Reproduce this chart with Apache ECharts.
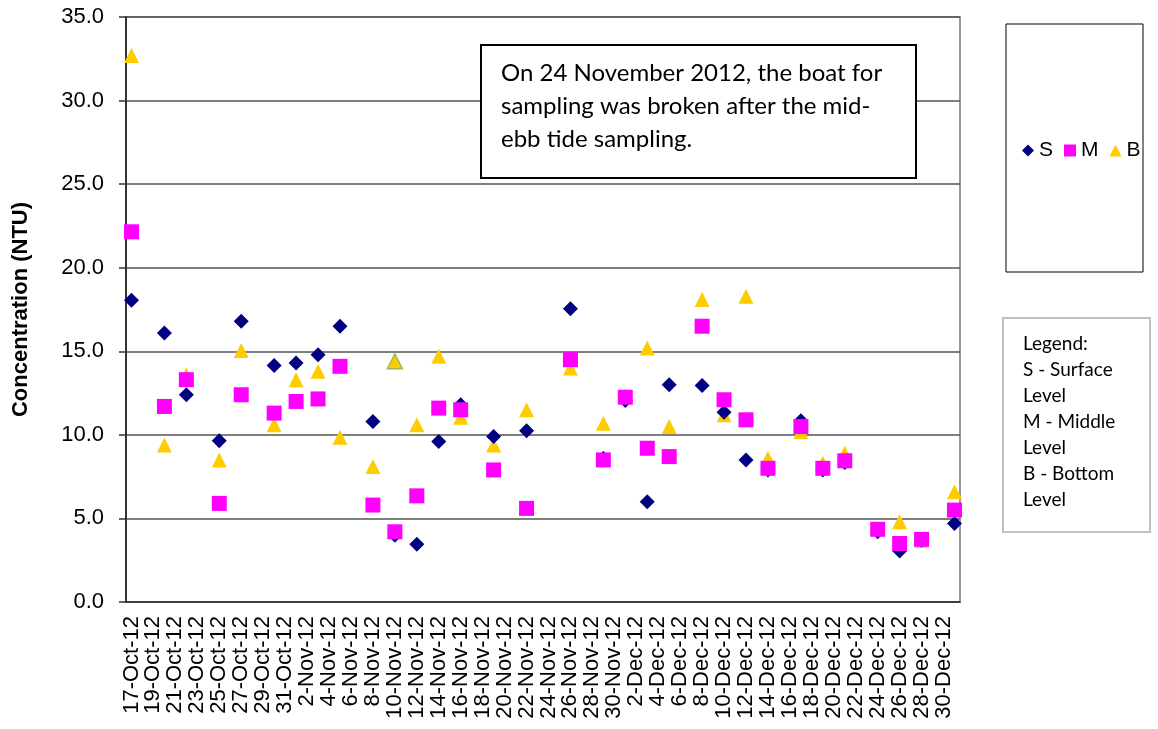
<!DOCTYPE html>
<html>
<head>
<meta charset="utf-8">
<script src="https://cdn.jsdelivr.net/npm/echarts@6/dist/echarts.min.js"></script>
<style>
  html, body { margin: 0; padding: 0; background: #fff; }
  #chart { width: 1158px; height: 729px; }
</style>
</head>
<body>
<div id="chart"></div>
<script>
// every day on the axis, labelled every other day
const days = [
  '17-Oct-12','18-Oct-12','19-Oct-12','20-Oct-12','21-Oct-12','22-Oct-12','23-Oct-12','24-Oct-12',
  '25-Oct-12','26-Oct-12','27-Oct-12','28-Oct-12','29-Oct-12','30-Oct-12','31-Oct-12',
  '1-Nov-12','2-Nov-12','3-Nov-12','4-Nov-12','5-Nov-12','6-Nov-12','7-Nov-12','8-Nov-12',
  '9-Nov-12','10-Nov-12','11-Nov-12','12-Nov-12','13-Nov-12','14-Nov-12','15-Nov-12','16-Nov-12',
  '17-Nov-12','18-Nov-12','19-Nov-12','20-Nov-12','21-Nov-12','22-Nov-12','23-Nov-12','24-Nov-12',
  '25-Nov-12','26-Nov-12','27-Nov-12','28-Nov-12','29-Nov-12','30-Nov-12',
  '1-Dec-12','2-Dec-12','3-Dec-12','4-Dec-12','5-Dec-12','6-Dec-12','7-Dec-12','8-Dec-12',
  '9-Dec-12','10-Dec-12','11-Dec-12','12-Dec-12','13-Dec-12','14-Dec-12','15-Dec-12','16-Dec-12',
  '17-Dec-12','18-Dec-12','19-Dec-12','20-Dec-12','21-Dec-12','22-Dec-12','23-Dec-12','24-Dec-12',
  '25-Dec-12','26-Dec-12','27-Dec-12','28-Dec-12','29-Dec-12','30-Dec-12','31-Dec-12'
];

// sampling days
const sampleDates = [
  '17-Oct-12','20-Oct-12','22-Oct-12','25-Oct-12','27-Oct-12','30-Oct-12','1-Nov-12','3-Nov-12',
  '5-Nov-12','8-Nov-12','10-Nov-12','12-Nov-12','14-Nov-12','16-Nov-12','19-Nov-12','22-Nov-12',
  '26-Nov-12','29-Nov-12','1-Dec-12','3-Dec-12','5-Dec-12','8-Dec-12','10-Dec-12','12-Dec-12',
  '14-Dec-12','17-Dec-12','19-Dec-12','21-Dec-12','24-Dec-12','26-Dec-12','28-Dec-12','31-Dec-12'
];

// turbidity (NTU)
const surface = [18.05,16.1,12.4,9.65,16.8,14.15,14.3,14.8,16.5,10.8,4.0,3.45,9.6,11.8,9.9,10.25,
  17.55,8.6,12.05,6.0,13.0,12.95,11.35,8.5,7.9,10.85,7.9,8.35,4.2,3.05,3.7,4.7];
const middle = [22.15,11.7,13.3,5.9,12.4,11.3,12.0,12.15,14.1,5.8,4.2,6.35,11.6,11.5,7.9,5.6,
  14.5,8.5,12.25,9.2,8.7,16.5,12.1,10.9,8.0,10.5,8.0,8.45,4.35,3.5,3.75,5.5];
const bottom = [32.7,9.4,13.6,8.5,15.05,10.6,13.3,13.8,9.85,8.1,14.4,10.6,14.7,11.05,9.4,11.5,
  14.0,10.7,12.35,15.2,10.5,18.1,11.2,18.3,8.6,10.2,8.3,8.9,4.4,4.8,3.7,6.6];

const outlinedDate = '10-Nov-12';

const noteLines = [
  'On 24 November 2012, the boat for',
  'sampling was broken after the mid-',
  'ebb tide sampling.'
];
const legendNote = ['Legend:', 'S - Surface', 'Level', 'M - Middle', 'Level', 'B - Bottom', 'Level'];

function pairs(vals) {
  return sampleDates.map((d, i) => [d, vals[i]]);
}

const chart = echarts.init(document.getElementById('chart'));

const bottomData = pairs(bottom).map(p => p[0] === outlinedDate
  ? { value: p, itemStyle: { borderColor: '#9bbb59', borderWidth: 1.5 } }
  : p);

chart.setOption({
  animation: false,
  textStyle: { fontFamily: '"Liberation Sans", Arial, sans-serif' },
  grid: {
    left: 126, right: 198, top: 17, bottom: 127,
    containLabel: false, outerBoundsMode: 'none',
    show: true, borderColor: '#999', borderWidth: 2
  },
  xAxis: {
    type: 'category',
    data: days,
    boundaryGap: true,
    axisLine: { lineStyle: { color: '#333', width: 1.5 } },
    axisTick: { interval: 1, length: 6, lineStyle: { color: '#333', width: 1.5 } },
    axisLabel: { interval: 1, rotate: 90, fontSize: 22, color: '#000', margin: 14 },
    splitLine: { show: false }
  },
  yAxis: {
    type: 'value',
    min: 0, max: 35, interval: 5,
    name: 'Concentration (NTU)',
    nameLocation: 'middle',
    nameGap: 94,
    nameTextStyle: { fontSize: 22, fontWeight: 'bold', color: '#000' },
    axisLine: { show: true, lineStyle: { color: '#333', width: 2 } },
    axisTick: { show: true, length: 7, lineStyle: { color: '#333', width: 1.5 } },
    axisLabel: { fontSize: 22, color: '#000', margin: 22, formatter: v => v.toFixed(1) },
    splitLine: { show: true, lineStyle: { color: '#555', width: 1.5 } }
  },
  legend: {
    left: 1017, top: 135,
    itemWidth: 12, itemHeight: 12, itemGap: 11,
    textStyle: { fontSize: 21, color: '#000' },
    data: [
      { name: 'S', icon: 'diamond' },
      { name: 'M', icon: 'rect' },
      { name: 'B', icon: 'triangle' }
    ]
  },
  graphic: [
    {
      type: 'rect', z: 50,
      shape: { x: 481, y: 45, width: 435, height: 133 },
      style: { fill: '#fff', stroke: '#000', lineWidth: 2 }
    },
    {
      type: 'text', z: 51, x: 501, y: 57,
      style: { text: noteLines.join('\n'), fontFamily: 'Lato', fontSize: 24, lineHeight: 33, fill: '#000' }
    },
    {
      type: 'rect', z: 1,
      shape: { x: 1006, y: 24, width: 137, height: 248 },
      style: { fill: 'none', stroke: '#000', lineWidth: 1 }
    },
    {
      type: 'rect', z: 1,
      shape: { x: 1003, y: 318, width: 147, height: 214 },
      style: { fill: '#fff', stroke: '#c0c0c0', lineWidth: 2 }
    },
    {
      type: 'text', z: 2, x: 1023, y: 331,
      style: { text: legendNote.join('\n'), fontFamily: 'Lato', fontSize: 19, lineHeight: 26, fill: '#000' }
    }
  ],
  series: [
    {
      name: 'S', type: 'scatter', symbol: 'diamond', symbolSize: 15, z: 3,
      itemStyle: { color: '#000080', opacity: 1 },
      data: pairs(surface)
    },
    {
      name: 'M', type: 'scatter', symbol: 'rect', symbolSize: 15, z: 4,
      itemStyle: { color: '#ff00ff', opacity: 1 },
      data: pairs(middle)
    },
    {
      name: 'B', type: 'scatter', symbol: 'triangle', symbolSize: 15, z: 2,
      itemStyle: { color: '#ffcc00', opacity: 1 },
      data: bottomData
    }
  ]
});
</script>
</body>
</html>
